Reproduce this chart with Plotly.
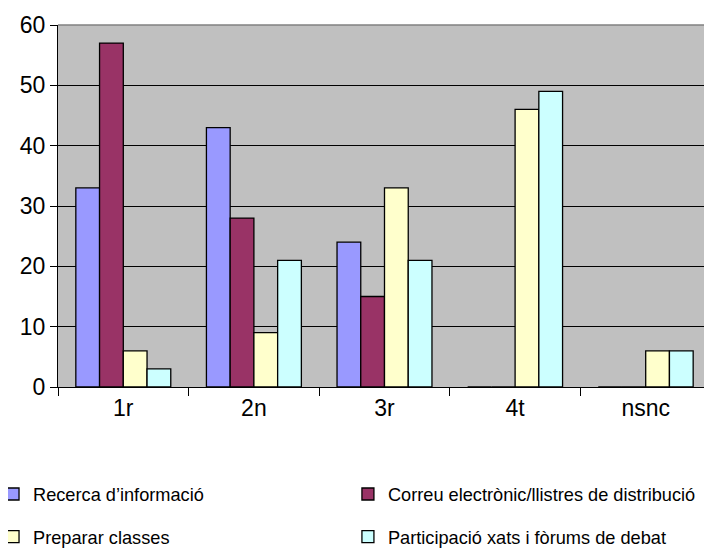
import plotly.graph_objects as go

categories = ["1r", "2n", "3r", "4t", "nsnc"]
recerca = [33, 43, 24, 0, 0]
correu = [57, 28, 15, 0, 0]
preparar = [6, 9, 33, 46, 6]
participacio = [3, 21, 21, 49, 6]

names = ["Recerca d’informació", "Correu electrònic/llistres de distribució",
         "Preparar classes", "Participació xats i fòrums de debat"]
colors = ["#9999FF", "#993366", "#FFFFCC", "#CCFFFF"]
series = [recerca, correu, preparar, participacio]
legend_ids = ["legend", "legend2", "legend3", "legend4"]

fig = go.Figure()
for n, c, s, lg in zip(names, colors, series, legend_ids):
    fig.add_trace(go.Bar(x=categories, y=s, name=n, marker=dict(color=c, line=dict(color="black", width=1.3)),
                         legend=lg))

font = "Liberation Sans, Arial, sans-serif"
leg_common = dict(orientation="h", xanchor="left", yanchor="middle",
                  font=dict(family=font, size=18.2, color="black"),
                  bgcolor="rgba(0,0,0,0)")
col_x = [-0.0995, 0.444]
row_y = [-0.296, -0.414]
# page body has an 8px margin, so the figure is 8px smaller than the window
fig.update_layout(
    width=704, height=542,
    margin=dict(l=50, r=1, t=17, b=163, autoexpand=False),
    paper_bgcolor="white", plot_bgcolor="#C0C0C0",
    barmode="group", bargap=0.273, bargroupgap=0,
    font=dict(family=font, size=23, color="black"),
    legend=dict(x=col_x[0], y=row_y[0], **leg_common),
    legend2=dict(x=col_x[1], y=row_y[0], **leg_common),
    legend3=dict(x=col_x[0], y=row_y[1], **leg_common),
    legend4=dict(x=col_x[1], y=row_y[1], **leg_common),
    xaxis=dict(showline=True, linecolor="black", linewidth=1.3, ticks="outside", tickson="boundaries",
               ticklen=8, tickcolor="black", tickfont=dict(size=23), showgrid=False, automargin=False),
    yaxis=dict(range=[0, 60], dtick=10, showline=True, linecolor="black", linewidth=1.3,
               ticks="outside", ticklen=7, tickcolor="black", showgrid=True, gridcolor="black",
               gridwidth=1.2, zeroline=False, tickfont=dict(size=23), automargin=False),
    showlegend=True,
)
fig.add_shape(type="line", xref="paper", yref="paper", x0=0, x1=1, y0=1, y1=1,
              line=dict(color="#808080", width=1.5), layer="above")
fig.add_shape(type="line", xref="paper", yref="paper", x0=1, x1=1, y0=0, y1=1,
              line=dict(color="#808080", width=1.5), layer="above")
fig.write_html("out.html")
